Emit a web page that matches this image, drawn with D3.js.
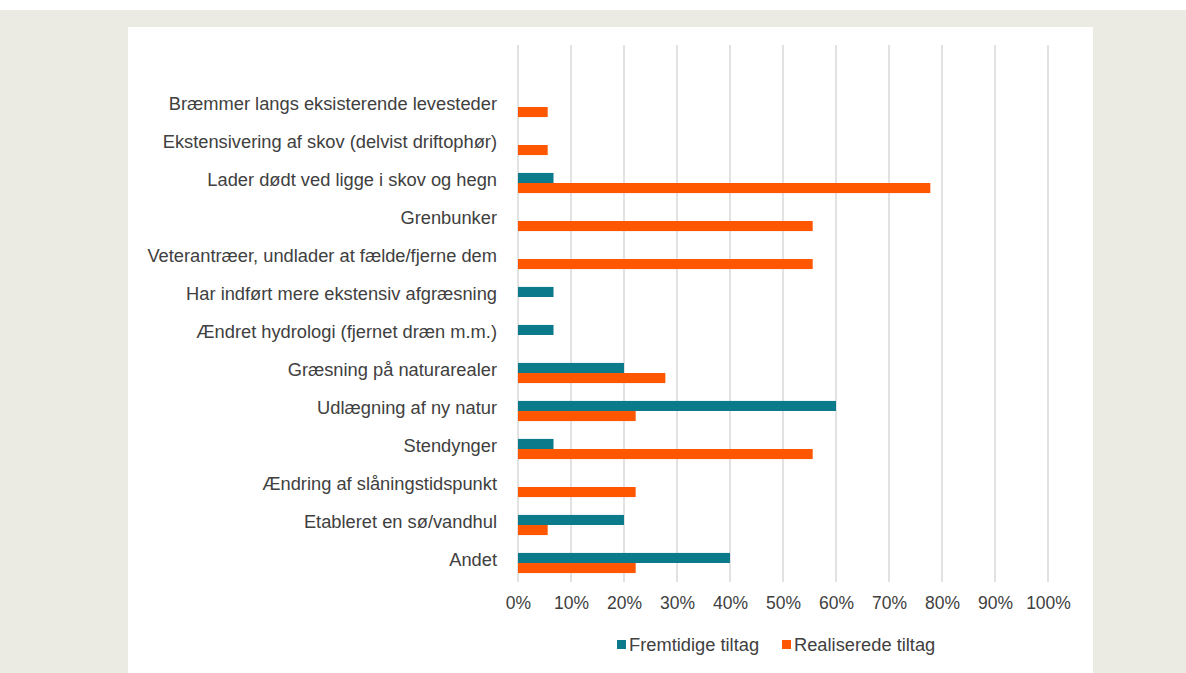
<!DOCTYPE html>
<html><head><meta charset="utf-8">
<script src="https://cdn.jsdelivr.net/npm/d3@7"></script>
<style>
html,body{margin:0;padding:0;background:#fff;}
svg{display:block;}
</style></head>
<body>
<svg id="c" width="1186" height="673"></svg>
<script>
const categories = [
  "Bræmmer langs eksisterende levesteder",
  "Ekstensivering af skov (delvist driftophør)",
  "Lader dødt ved ligge i skov og hegn",
  "Grenbunker",
  "Veterantræer, undlader at fælde/fjerne dem",
  "Har indført mere ekstensiv afgræsning",
  "Ændret hydrologi (fjernet dræn m.m.)",
  "Græsning på naturarealer",
  "Udlægning af ny natur",
  "Stendynger",
  "Ændring af slåningstidspunkt",
  "Etableret en sø/vandhul",
  "Andet"
];
const fremtidige = [0, 0, 6.7, 0, 0, 6.7, 6.7, 20, 60, 6.7, 0, 20, 40];
const realiserede = [5.6, 5.6, 77.8, 55.6, 55.6, 0, 0, 27.8, 22.2, 55.6, 22.2, 5.6, 22.2];
const seriesNames = ["Fremtidige tiltag", "Realiserede tiltag"];
const xTicks = [0,10,20,30,40,50,60,70,80,90,100];

const colors = ["#0b7a8a", "#ff5600"];
const textColor = "#404040";
const font = "'Liberation Sans', Arial, sans-serif";

const svg = d3.select("#c");
svg.append("rect").attr("x",0).attr("y",10).attr("width",1186).attr("height",663).attr("fill","#ebeae3");
svg.append("rect").attr("x",128).attr("y",27).attr("width",965).attr("height",646).attr("fill","#ffffff");

const x = d3.scaleLinear().domain([0,100]).range([518, 1048]);
const y = d3.scaleBand().domain(categories).range([88, 582]).paddingInner(0.47).paddingOuter(0.235);
const sub = d3.scaleBand().domain([0,1]).range([0, y.bandwidth()]);

// gridlines
svg.append("g").selectAll("line").data(xTicks).join("line")
  .attr("x1", d=>x(d)).attr("x2", d=>x(d))
  .attr("y1", 45).attr("y2", 582)
  .attr("stroke", "#d9d9d9").attr("stroke-width", 1.5);

// x axis labels
const xAxis = d3.axisBottom(x).tickValues(xTicks).tickFormat(d=>d+"%").tickSize(0).tickPadding(0);
const gx = svg.append("g").attr("transform","translate(0,597)").call(xAxis);
gx.select(".domain").remove();
gx.selectAll("text").attr("fill", textColor).attr("font-family", font).attr("font-size", 17.5);

// bars
const data = [fremtidige, realiserede];
data.forEach((vals, si) => {
  svg.append("g").selectAll("rect").data(vals).join("rect")
    .attr("x", x(0))
    .attr("y", (d,i)=> y(categories[i]) + sub(si))
    .attr("width", d => x(d) - x(0))
    .attr("height", sub.bandwidth())
    .attr("fill", colors[si]);
});

// category labels
const yAxis = d3.axisLeft(y).tickSize(0).tickPadding(0);
const gy = svg.append("g").attr("transform","translate(497,-3)").call(yAxis);
gy.select(".domain").remove();
gy.selectAll("text").attr("fill", textColor).attr("font-family", font).attr("font-size", 18.3);

// legend
const legend = [{name: seriesNames[0], x: 617}, {name: seriesNames[1], x: 782}];
const lg = svg.append("g");
legend.forEach((l, i) => {
  lg.append("rect").attr("x", l.x).attr("y", 640).attr("width", 9).attr("height", 9).attr("fill", colors[i]);
  lg.append("text").attr("x", l.x + 12).attr("y", 651).text(l.name)
    .attr("fill", textColor).attr("font-family", font).attr("font-size", 18.3);
});
</script>
</body></html>
